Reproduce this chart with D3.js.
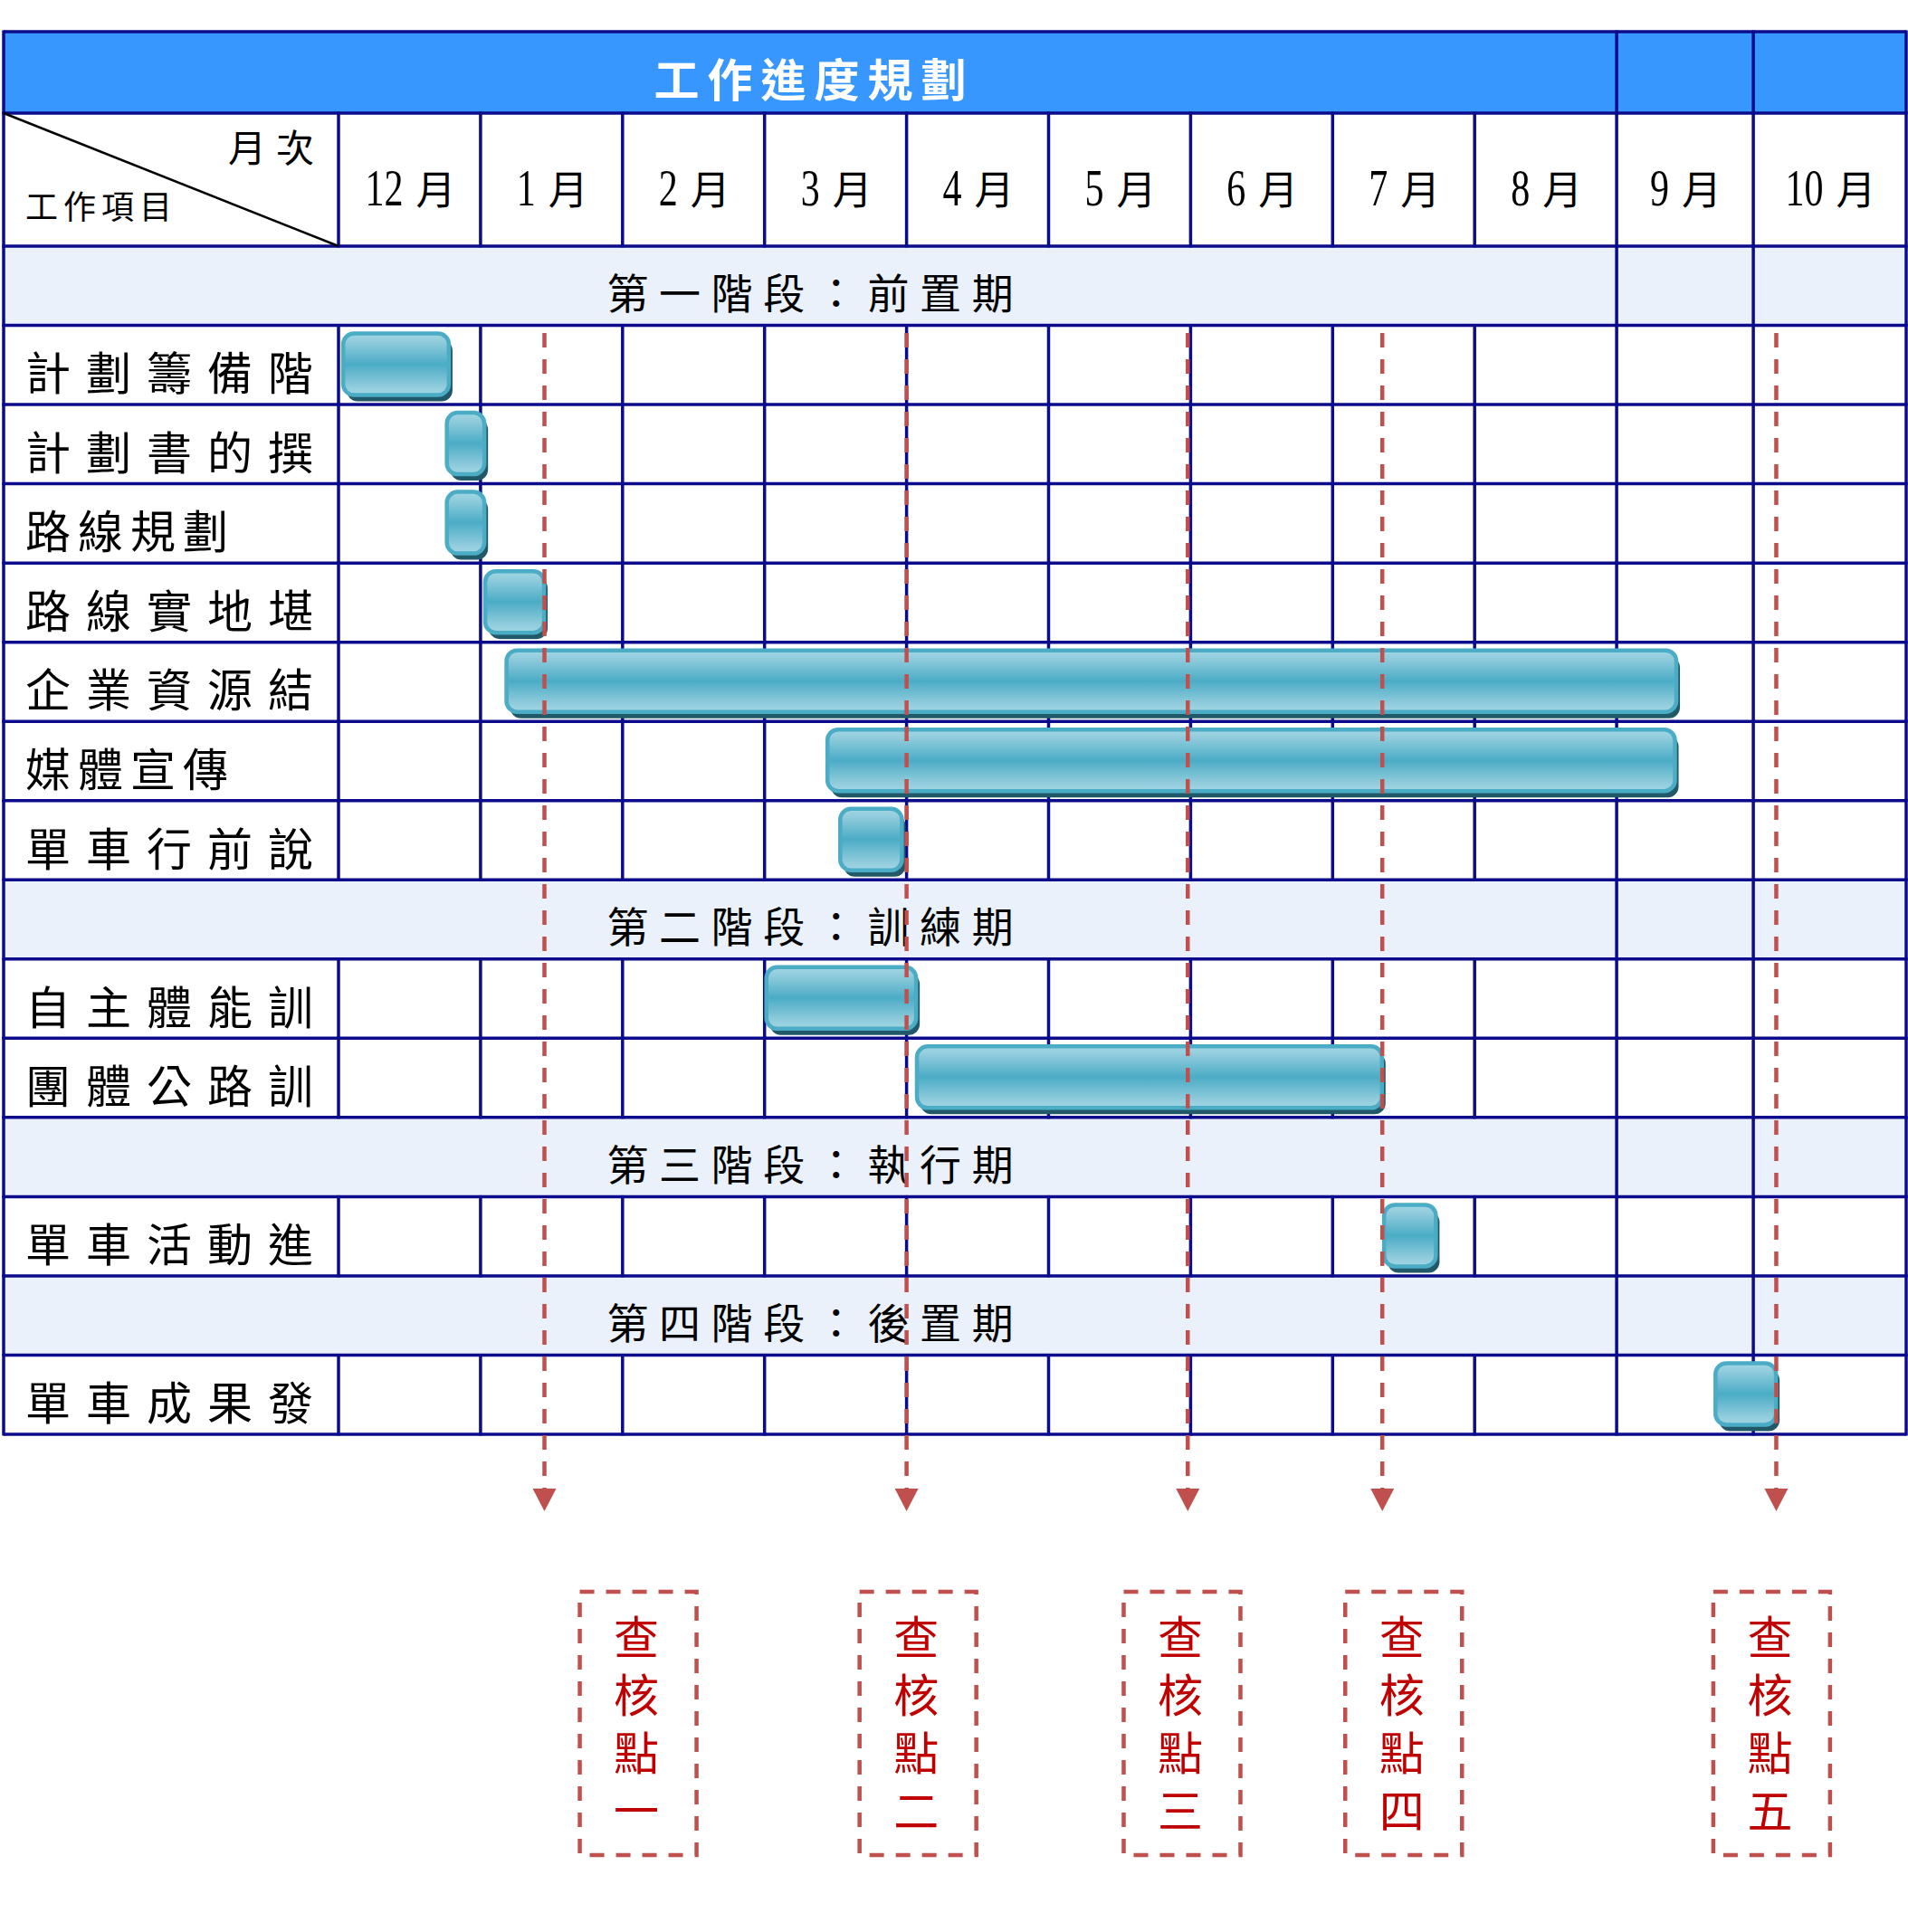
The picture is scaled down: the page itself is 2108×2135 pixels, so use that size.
<!DOCTYPE html>
<html>
<head>
<meta charset="utf-8">
<script src="https://cdn.jsdelivr.net/npm/d3@7"></script>
<style>
html,body{margin:0;padding:0;background:#fff;}
svg{display:block;}
</style>
</head>
<body>
<div id="chart"></div>
<script>
// ---------------- DATA ----------------
const title = "工作進度規劃";
const cornerTop = "月次";
const cornerBottom = "工作項目";
const months = ["12","1","2","3","4","5","6","7","8","9","10"];
const monthUnit = "月";
const phases = ["第一階段：前置期","第二階段：訓練期","第三階段：執行期","第四階段：後置期"];
const tasks = ["計劃籌備階","計劃書的撰","路線規劃","路線實地堪","企業資源結","媒體宣傳","單車行前說","自主體能訓","團體公路訓","單車活動進","單車成果發"];
const taskPhase = [0,0,0,0,0,0,0,1,1,2,3];
// start / end in month units (0 = start of 12月)
const taskStart = [0.02,0.75,0.75,1.02,1.17,3.43,3.52,3.00,4.06,7.35,9.71];
const taskEnd   = [0.79,1.04,1.04,1.46,9.45,9.44,3.98,4.08,7.36,7.74,10.16];
const checkpointMonth = [1.45,4.00,5.98,7.35,10.15];
const checkpointBoxMonth = [2.11,4.08,5.94,7.50,10.12];
const checkpointLabels = ["查核點一","查核點二","查核點三","查核點四","查核點五"];

// ---------------- LAYOUT ----------------
const W = 2108, H = 2135;
const gL = 4, gR = 2106, gT = 35, titleBottom = 125, headBottom = 272, gB = 1585;
const labelColRight = 374;
const colW = [156.9,156.9,156.9,156.9,156.9,156.9,156.9,156.9,156.9,151,169];
const edges = [labelColRight];
colW.forEach(w => edges.push(edges[edges.length-1] + w));
const x = d3.scaleLinear().domain(d3.range(months.length + 1)).range(edges);

const rows = [];
phases.forEach((p, pi) => {
  rows.push({type: "phase", label: p});
  tasks.forEach((t, ti) => { if (taskPhase[ti] === pi) rows.push({type: "task", label: t, idx: ti}); });
});
const y = d3.scaleBand().domain(d3.range(rows.length)).range([headBottom, gB]);

const GRID = "#0b0b8c", RED = "#c0504d", TXTRED = "#c00000";
const CJK = "'Noto Sans CJK TC','Noto Sans CJK SC',sans-serif";

const svg = d3.select("#chart").append("svg").attr("width", W).attr("height", H)
  .style("font-family", CJK);

const defs = svg.append("defs");
const grad = defs.append("linearGradient").attr("id","barGrad").attr("x1",0).attr("y1",0).attr("x2",0).attr("y2",1);
[[0,"#a2d6e4"],[0.12,"#93cddd"],[0.5,"#4bacc6"],[0.88,"#93cddd"],[1,"#a2d6e4"]].forEach(s =>
  grad.append("stop").attr("offset", s[0]).attr("stop-color", s[1]));

// ---------------- FILLS ----------------
svg.append("rect").attr("x", gL).attr("y", gT).attr("width", gR-gL).attr("height", titleBottom-gT).attr("fill", "#3897ff");
svg.selectAll("rect.phase").data(rows.map((r,i)=>({r,i})).filter(d=>d.r.type==="phase")).join("rect")
  .attr("class","phase").attr("x", gL).attr("y", d=>y(d.i)).attr("width", gR-gL).attr("height", y.bandwidth())
  .attr("fill", "#eaf1fb");

// ---------------- GRID ----------------
const grid = svg.append("g").attr("stroke", GRID).attr("stroke-width", 3.5).attr("fill","none");
const hLines = [gT, titleBottom, headBottom].concat(rows.map((r,i)=>y(i)+y.bandwidth()));
grid.selectAll("line.h").data(hLines).join("line").attr("class","h")
  .attr("x1", gL).attr("x2", gR).attr("y1", d=>d).attr("y2", d=>d);
const segs = [];
const sparse = [gL, x(9), x(10), gR];
const full = [gL].concat(edges.slice(0, edges.length-1)).concat([gR]);
sparse.forEach(v => segs.push({x:v, y1:gT, y2:titleBottom}));
full.forEach(v => segs.push({x:v, y1:titleBottom, y2:headBottom}));
rows.forEach((r,i) => {
  (r.type === "phase" ? sparse : full).forEach(v => segs.push({x:v, y1:y(i), y2:y(i)+y.bandwidth()}));
});
grid.selectAll("line.v").data(segs).join("line").attr("class","v")
  .attr("x1", d=>d.x).attr("x2", d=>d.x).attr("y1", d=>d.y1-1.5).attr("y2", d=>d.y2+1.5);

// diagonal
svg.append("line").attr("x1", gL).attr("y1", titleBottom).attr("x2", labelColRight).attr("y2", headBottom)
  .attr("stroke", "#000").attr("stroke-width", 2.5);

// ---------------- TEXT ----------------
const titleLen = (title.length-1)*59 + 50;
svg.append("text").attr("x", (gL + x(9))/2 - titleLen/2).attr("y", 85)
  .attr("dominant-baseline","central").attr("font-size", 50).attr("font-weight", 700)
  .attr("fill", "#fff").attr("textLength", titleLen).attr("lengthAdjust","spacing").text(title);

svg.append("text").attr("x", 252).attr("y", 160).attr("dominant-baseline","central")
  .attr("font-size", 42).attr("textLength", 95).attr("lengthAdjust","spacing").text(cornerTop);
svg.append("text").attr("x", 28).attr("y", 226).attr("dominant-baseline","central")
  .attr("font-size", 36).attr("textLength", 162).attr("lengthAdjust","spacing").text(cornerBottom);

// month labels
const mg = svg.append("g");
months.forEach((m, i) => {
  const cx = (x(i) + x(i+1))/2 - 4;
  const dW = 21 * m.length, gap = 14, yW = 40;
  const sx = cx - (dW + gap + yW)/2 + 3;
  mg.append("text").attr("x", sx).attr("y", 227)
    .attr("font-family", "'Liberation Serif',serif").attr("font-size", 58)
    .attr("textLength", dW).attr("lengthAdjust","spacingAndGlyphs").text(m);
  mg.append("text").attr("x", sx + dW + gap).attr("y", 207).attr("dominant-baseline","central")
    .attr("font-size", 44).text(monthUnit);
});

// row labels
rows.forEach((r,i) => {
  const cy = y(i) + y.bandwidth()/2 + 5;
  if (r.type === "phase") {
    const len = (r.label.length-1)*57.6 + 46;
    svg.append("text").attr("x", (gL + x(9))/2 - len/2).attr("y", cy)
      .attr("dominant-baseline","central").attr("font-size", 46)
      .attr("textLength", len).attr("lengthAdjust","spacing").text(r.label);
  } else {
    const pitch = r.label.length >= 5 ? 67 : 58;
    const len = (r.label.length-1)*pitch + 50;
    svg.append("text").attr("x", 28).attr("y", cy + 1)
      .attr("dominant-baseline","central").attr("font-size", 50)
      .attr("textLength", len).attr("lengthAdjust","spacing").text(r.label);
  }
});

// ---------------- BARS ----------------
const barRows = rows.map((r,i)=>({r,i})).filter(d=>d.r.type==="task");
const bars = svg.append("g").selectAll("g").data(barRows).join("g");
const bx = d => x(taskStart[d.r.idx]) + 2;
const bw = d => x(taskEnd[d.r.idx]) - x(taskStart[d.r.idx]) - 4;
bars.append("rect").attr("x", d=>bx(d)+4).attr("y", d=>y(d.i)+9+7).attr("width", bw).attr("height", 68)
  .attr("rx", 12).attr("fill", "#215968");
bars.append("rect").attr("x", bx).attr("y", d=>y(d.i)+9).attr("width", bw).attr("height", 68)
  .attr("rx", 12).attr("fill", "url(#barGrad)").attr("stroke", "#4bacc6").attr("stroke-width", 4.5);

// ---------------- CHECKPOINTS ----------------
const cp = svg.append("g");
checkpointMonth.forEach((m, i) => {
  const cx = x(m);
  cp.append("line").attr("x1", cx).attr("x2", cx).attr("y1", 368).attr("y2", 1648)
    .attr("stroke", RED).attr("stroke-width", 4.5).attr("stroke-dasharray", "16 13");
  cp.append("path").attr("d", `M${cx-13},1645 L${cx+13},1645 L${cx},1670 Z`).attr("fill", RED);
  const bc = x(checkpointBoxMonth[i]);
  const bTop = 1759, bW = 129, bH = 291;
  cp.append("rect").attr("x", bc - bW/2).attr("y", bTop).attr("width", bW).attr("height", bH)
    .attr("fill", "none").attr("stroke", RED).attr("stroke-width", 4.5).attr("stroke-dasharray", "16 13");
  cp.append("text").attr("x", bc - 2).attr("y", bTop + 25)
    .style("writing-mode", "vertical-rl").style("letter-spacing", "14px")
    .attr("font-size", 50).attr("fill", TXTRED).text(checkpointLabels[i]);
});
</script>
</body>
</html>
